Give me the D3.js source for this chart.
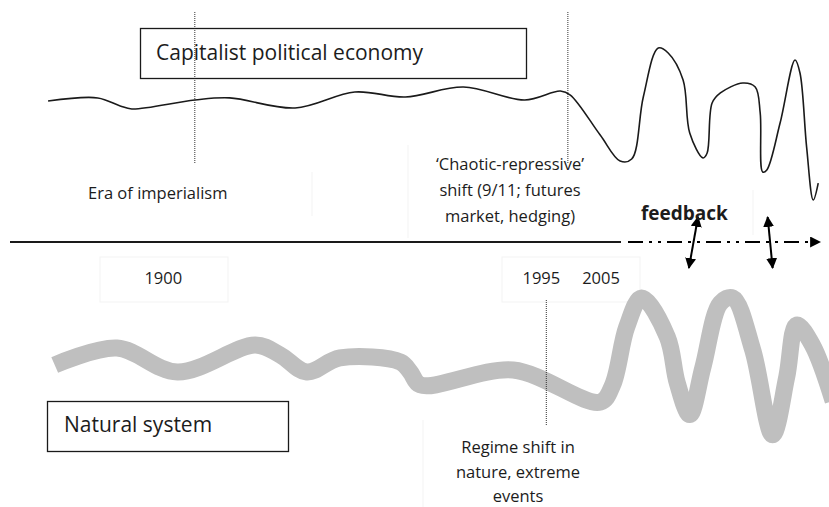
<!DOCTYPE html>
<meta charset="utf-8">
<html>
<head>
<title>Capitalist political economy and natural system</title>
<script src="https://d3js.org/d3.v7.min.js"></script>
<style>
  body { margin: 0; background: #fff; }
  text { font-family: "Open Sans", Lato, sans-serif; fill: #1c1c1c; }
</style>
</head>
<body>
<svg width="829" height="507"></svg>
<script>
// time position (0-100 across the page) and level (0-100) of each curve
var econT = [5.8, 11.8, 14.5, 15.9, 23.5, 27.7, 35.6, 42.8, 48.9, 55.9, 63.3, 67.6, 68.8, 72.4, 74.8, 76.2,
             77.6, 79.4, 80.6, 82.4, 83.2, 84.8, 85.3, 85.9, 86.9, 89.6, 91.1, 91.7, 92.0, 92.5, 94.1,
             95.9, 96.5, 97.3, 98.1, 98.7];
var econV = [61.9, 63.8, 58.8, 56.9, 62.5, 63.8, 57.5, 67.5, 64.4, 70.6, 62.5, 68.1, 65.6, 40.6, 24.4, 25.6,
             64.4, 95, 91.9, 75, 41.9, 26.3, 29.4, 60.6, 66.9, 73.1, 70.6, 54.4, 17.5, 18.8, 48.1,
             87.5, 79.4, 33.1, 0, 10.6];

var natureT = [6.6, 14.1, 21.4, 30.8, 33.8, 37.0, 41.0, 48.3, 49.5, 50.7, 61.9, 72.4, 73.9, 75.6, 77.4,
               80.5, 81.7, 83.2, 84.8, 86.9, 88.4, 90.8, 93.2, 94.9, 96.1, 98.0, 100.5];
var natureV = [50, 61.3, 45.3, 63.3, 56.7, 45.3, 54.7, 52, 45.3, 36.7, 46.7, 25.3, 36.7, 75.3, 94.7,
               68.7, 38, 17, 48.7, 91.3, 94.7, 60, 3.5, 42, 76.7, 63.3, 26];

var yearLabels = ["1900", "1995", "2005"];
var yearT = [19.7, 65.3, 72.5];

var markerT = [23.5, 68.5];       // dotted lines through the economy curve
var regimeT = [65.9];             // dotted line through the nature curve
var feedbackT = [[84.2, 83.1], [92.6, 93.2]];

var svg = d3.select("svg");

var x = d3.scaleLinear().domain([0, 100]).range([0, 829]);
var yEcon = d3.scaleLinear().domain([0, 100]).range([200, 40]);
var yNature = d3.scaleLinear().domain([0, 100]).range([440, 290]);

var defs = svg.append("defs");
defs.append("marker")
    .attr("id", "head")
    .attr("viewBox", "0 0 10 10")
    .attr("refX", 9).attr("refY", 5)
    .attr("markerWidth", 11).attr("markerHeight", 11)
    .attr("markerUnits", "userSpaceOnUse")
    .attr("orient", "auto-start-reverse")
    .append("path").attr("d", "M0,0L10,5L0,10z").attr("fill", "#000");

// faint text-box outlines left over in the picture
var faint = svg.append("g").attr("fill", "none").attr("stroke", "#f3f3f3").attr("stroke-width", 1);
faint.append("rect").attr("x", 100).attr("y", 257).attr("width", 128).attr("height", 45);
faint.append("rect").attr("x", 502).attr("y", 257).attr("width", 138).attr("height", 45);
faint.append("line").attr("x1", 312).attr("x2", 312).attr("y1", 172).attr("y2", 216);
faint.append("line").attr("x1", 408).attr("x2", 408).attr("y1", 145).attr("y2", 238);
faint.append("line").attr("x1", 423).attr("x2", 423).attr("y1", 420).attr("y2", 507);
faint.append("line").attr("x1", 753).attr("x2", 753).attr("y1", 190).attr("y2", 235);

// nature curve
var natureLine = d3.line()
    .x(function(d, i) { return x(natureT[i]); })
    .y(function(d) { return yNature(d); })
    .curve(d3.curveCatmullRom.alpha(0.5));
svg.append("path")
    .attr("d", natureLine(natureV))
    .attr("fill", "none")
    .attr("stroke", "#bfbfbf")
    .attr("stroke-width", 17)
    .attr("stroke-linejoin", "round");

// economy curve
var econLine = d3.line()
    .x(function(d, i) { return x(econT[i]); })
    .y(function(d) { return yEcon(d); })
    .curve(d3.curveCatmullRom.alpha(0.5));
svg.append("path")
    .attr("d", econLine(econV))
    .attr("fill", "none")
    .attr("stroke", "#1a1a1a")
    .attr("stroke-width", 1.6);

// dotted period lines
svg.selectAll(".mark").data(markerT).enter().append("line")
    .attr("x1", function(d) { return x(d); }).attr("x2", function(d) { return x(d); })
    .attr("y1", 12).attr("y2", 163)
    .attr("stroke", "#333").attr("stroke-dasharray", "1,1");
svg.selectAll(".regime").data(regimeT).enter().append("line")
    .attr("x1", function(d) { return x(d); }).attr("x2", function(d) { return x(d); })
    .attr("y1", 300).attr("y2", 425)
    .attr("stroke", "#333").attr("stroke-dasharray", "1,1");

// time axis
svg.append("line")
    .attr("x1", 10).attr("x2", 621).attr("y1", 242).attr("y2", 242)
    .attr("stroke", "#1a1a1a").attr("stroke-width", 2);
svg.append("line")
    .attr("x1", 628).attr("x2", 820).attr("y1", 242).attr("y2", 242)
    .attr("stroke", "#000").attr("stroke-width", 2)
    .attr("stroke-dasharray", "15,6,3,6,3,6")
    .attr("marker-end", "url(#head)");

svg.selectAll(".year").data(yearLabels).enter().append("text")
    .attr("x", function(d, i) { return x(yearT[i]); })
    .attr("y", 284)
    .attr("text-anchor", "middle")
    .style("font-size", "16.5px")
    .text(function(d) { return d; });

// feedback arrows
svg.selectAll(".fb").data(feedbackT).enter().append("line")
    .attr("x1", function(d) { return x(d[0]); })
    .attr("x2", function(d) { return x(d[1]); })
    .attr("y1", 217).attr("y2", 268)
    .attr("stroke", "#000").attr("stroke-width", 2)
    .attr("marker-start", "url(#head)")
    .attr("marker-end", "url(#head)");

svg.append("text")
    .attr("x", 641).attr("y", 220)
    .style("font-size", "19px").style("font-weight", "bold")
    .text("feedback");

// boxes
svg.append("rect").attr("x", 140.5).attr("y", 28.5).attr("width", 386).attr("height", 50)
    .attr("fill", "none").attr("stroke", "#1a1a1a").attr("stroke-width", 1.3);
svg.append("text").attr("x", 156).attr("y", 60).style("font-size", "21px")
    .text("Capitalist political economy");

svg.append("rect").attr("x", 47.5).attr("y", 401.5).attr("width", 241).attr("height", 50)
    .attr("fill", "none").attr("stroke", "#1a1a1a").attr("stroke-width", 1.3);
svg.append("text").attr("x", 64).attr("y", 432).style("font-size", "21px")
    .text("Natural system");

// annotations
svg.append("text").attr("x", 88).attr("y", 199).style("font-size", "16.5px")
    .text("Era of imperialism");

var chaotic = ["\u2018Chaotic-repressive\u2019", "shift (9/11; futures", "market, hedging)"];
svg.selectAll(".chaotic").data(chaotic).enter().append("text")
    .attr("x", 510).attr("y", function(d, i) { return 170 + i * 26; })
    .attr("text-anchor", "middle")
    .style("font-size", "16.5px")
    .text(function(d) { return d; });

var regime = ["Regime shift in", "nature, extreme", "events"];
svg.selectAll(".regtext").data(regime).enter().append("text")
    .attr("x", 518).attr("y", function(d, i) { return 453 + i * 24.5; })
    .attr("text-anchor", "middle")
    .style("font-size", "16.5px")
    .text(function(d) { return d; });
</script>
</body>
</html>
